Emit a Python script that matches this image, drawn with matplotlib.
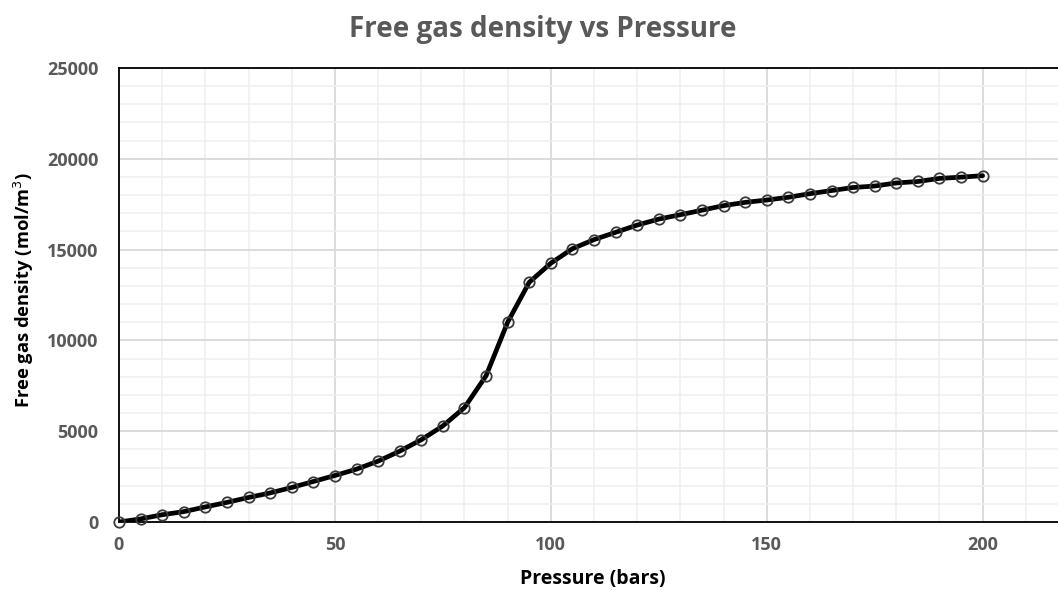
import matplotlib
matplotlib.use("Agg")
import matplotlib.pyplot as plt
from matplotlib.ticker import MultipleLocator

# Pressure (bars) and free gas density (mol/m^3)
pressure = [0, 5, 10, 15, 20, 25, 30, 35, 40, 45, 50, 55, 60, 65, 70, 75, 80,
            85, 90, 95, 100, 105, 110, 115, 120, 125, 130, 135, 140, 145, 150,
            155, 160, 165, 170, 175, 180, 185, 190, 195, 200]
density = [0, 170, 400, 570, 830, 1080, 1350, 1600, 1900, 2230, 2560, 2910,
           3350, 3900, 4530, 5290, 6300, 8050, 11000, 13200, 14250, 15050,
           15550, 15950, 16350, 16680, 16920, 17170, 17420, 17600, 17730,
           17880, 18080, 18250, 18420, 18500, 18670, 18750, 18920, 18990, 19070]

x_ticks = [0, 50, 100, 150, 200]
y_ticks = [0, 5000, 10000, 15000, 20000, 25000]

plt.rcParams["font.family"] = ["Open Sans", "DejaVu Sans"]

fig = plt.figure(figsize=(10.58, 5.90), dpi=100)
ax = fig.add_axes([119 / 1058, 1 - 522 / 590, 950 / 1058, 454 / 590])

ax.set_xlim(0, 220)
ax.set_ylim(0, 25000)
ax.set_xticks(x_ticks)
ax.set_yticks(y_ticks)
ax.xaxis.set_minor_locator(MultipleLocator(10))
ax.yaxis.set_minor_locator(MultipleLocator(1000))

ax.grid(which="major", color="#d9d9d9", linewidth=1.3)
ax.grid(which="minor", color="#efefef", linewidth=1.1)
ax.set_axisbelow(True)

for side in ("left", "bottom", "top"):
    ax.spines[side].set_color("black")
    ax.spines[side].set_linewidth(1.3)
ax.spines["right"].set_visible(False)

ax.tick_params(which="both", length=0)
ax.tick_params(axis="y", pad=15, labelsize=13, labelcolor="#595959")
ax.tick_params(axis="x", pad=10, labelsize=13, labelcolor="#595959")
for lab in ax.get_xticklabels() + ax.get_yticklabels():
    lab.set_fontweight("bold")

ax.plot(pressure, density, color="black", linewidth=3.4, solid_capstyle="round",
        zorder=3)
ax.plot(pressure, density, linestyle="none", marker="o", markersize=7.5,
        markerfacecolor="none", markeredgecolor="#3a3a3a", markeredgewidth=1.3,
        zorder=4, clip_on=False)

ax.set_xlabel("Pressure (bars)", fontsize=14, fontweight="bold",
              color="black")
ax.set_ylabel("Free gas density (mol/m$^3$)", fontsize=13.2,
              fontweight="bold", color="black")
ax.xaxis.set_label_coords(0.499, -0.103)
ax.yaxis.set_label_coords(-0.087, 0.51)

fig.text(543 / 1058, 1 - 30 / 590, "Free gas density vs Pressure",
         ha="center", va="center", fontsize=20, fontweight="bold",
         color="#595959")

fig.savefig("out.png", dpi=100)
